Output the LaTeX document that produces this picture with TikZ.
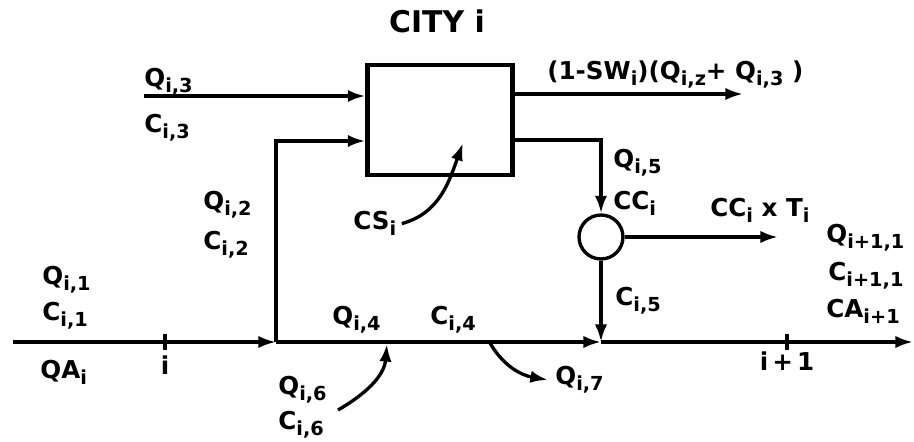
\documentclass[tikz,border=0pt]{standalone}
\usepackage{fontspec}
\setmainfont{DejaVu Sans}
\usetikzlibrary{arrows.meta,positioning}
\tikzset{>={Latex[length=10pt,width=7pt]}}
\tikzset{flow/.style={line width=1.9pt}}
\tikzset{lbl/.style={inner sep=0pt, anchor=base west, font=\fontsize{14}{17}\selectfont\bfseries}}
% lettered subscript
\newcommand{\ix}[1]{\raisebox{-0.4ex}{\fontsize{11}{12}\selectfont\bfseries #1}}

\begin{document}
\begin{tikzpicture}[x=0.02cm, y=-0.02cm]
  \useasboundingbox (0,0) rectangle (914,442);
  % city block and mixing point
  \node[draw, line width=2.5pt, minimum width=2.9cm, minimum height=2.2cm, inner sep=0pt] (city) at (440,120) {};
  \node[draw, circle, line width=1.9pt, minimum size=0.88cm, inner sep=0pt] (mix) at (601,237) {};
  \node[inner sep=0pt, anchor=base, font=\fontsize{17}{20}\selectfont\bfseries] (title) at (437,33) {CITY i};

  \coordinate (west) at (13,342);
  \coordinate (j1) at (276,342);
  \coordinate (j2) at (601,342);
  \coordinate (east) at (913,342);
  \coordinate (ti) at (165,342);
  \coordinate (tii) at (787,342);
  \coordinate (up) at (276,141);
  \coordinate (q3) at (144,96);
  \coordinate (out) at (743,94);
  \coordinate (bend) at (601,140);
  \coordinate (tax) at (778,237);
  \coordinate (csin) at (463,143);
  \coordinate (q6tail) at (338,410);
  \coordinate (q6in) at (387,344);
  \coordinate (q7out) at (490,343);

  % river
  \draw[flow,->] (west) -- (j1);
  \draw[flow,->] (j1) -- (j2);
  \draw[flow,->] (j2) -- (east);
  \draw[flow] (ti) ++(0,-8) -- ++(0,16);
  \draw[flow] (tii) ++(0,-8) -- ++(0,16);

  % withdrawals and returns
  \draw[flow,->] (j1) -- (up) -- (city.west |- up);
  \draw[flow,->] (q3) -- (city.west |- q3);
  \draw[flow,->] (city.east |- out) -- (out);
  \draw[flow,->] (city.east |- bend) -- (bend) -- (mix.north);
  \draw[flow,->] (mix.east) -- (tax);
  \draw[flow,->] (mix.south) -- (j2);

  % labels
  \node[lbl] (q3a) at (144,87) {Q\ix{i,3}};
  \node[lbl] (c3a) at (144,133) {C\ix{i,3}};
  \node[lbl] (q2a) at (203,210) {Q\ix{i,2}};
  \node[lbl] (c2a) at (203,250) {C\ix{i,2}};
  \node[lbl] (q1a) at (42,285) {Q\ix{i,1}};
  \node[lbl] (c1a) at (42,321) {C\ix{i,1}};
  \node[lbl] (qa) at (40,379) {QA\ix{i}};
  \node[lbl, anchor=base] (ni) at (165,375) {i};
  \node[lbl] (q4a) at (332,325) {Q\ix{i,4}};
  \node[lbl] (c4a) at (430,325) {C\ix{i,4}};
  \node[lbl] (q6) at (278,395) {Q\ix{i,6}};
  \node[lbl] (c6) at (278,430) {C\ix{i,6}};
  \node[lbl] (q7) at (555,385) {Q\ix{i,7}};
  \node[lbl, anchor=base] (nii) at (787,371) {i\,+\,1};
  \node[lbl] (c5a) at (615,306) {C\ix{i,5}};
  \node[lbl] (qn) at (826,243) {Q\ix{i+1,1}};
  \node[lbl] (cn) at (828,281) {C\ix{i+1,1}};
  \node[lbl] (can) at (826,318) {CA\ix{i+1}};
  \node[lbl] (tx) at (710,217) {CC\ix{i} x T\ix{i}};
  \node[lbl] (q5a) at (613,168) {Q\ix{i,5}};
  \node[lbl] (cc) at (613,210) {CC\ix{i}};
  \node[lbl] (ret) at (547,80) {(1-SW\ix{i})(Q\ix{i,z}+ Q\ix{i,3} )};
  \node[lbl] (cs) at (353,230) {CS\ix{i}};

  % point inflows and outflows
  \draw[flow,->] ([xshift=3pt]cs.east) to[out=15, in=-110] (csin);
  \draw[flow,->] (q6tail) to[out=30, in=-95] (q6in);
  \draw[flow,->] (q7out) to[out=-60, in=170] ([xshift=-4pt]q7.west);
\end{tikzpicture}
\end{document}
